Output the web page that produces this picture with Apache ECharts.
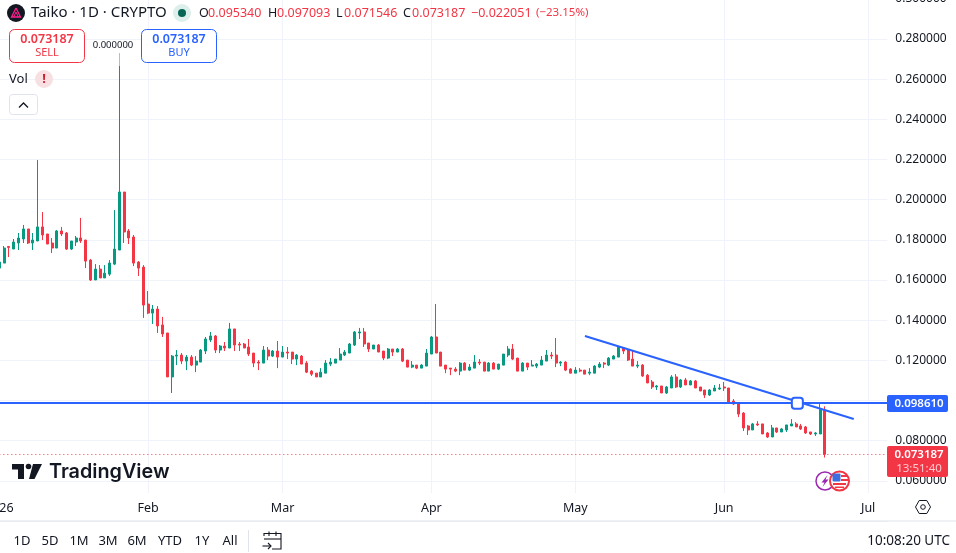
<!DOCTYPE html>
<html>
<head>
<meta charset="utf-8">
<title>Taiko 1D</title>
<script src="https://cdn.jsdelivr.net/npm/echarts@6/dist/echarts.min.js"></script>
<style>
html,body{margin:0;padding:0;background:#fff;}
#chart{width:956px;height:553px;}
</style>
</head>
<body>
<div id="chart"></div>
<script>
// Daily candles from 1 Jan 2026, one column per session.
const opens = [
  .1659,.1684,.1767,.1754,.1784,.1804,.1854,.1784,.1794,.1864,
  .1829,.1784,.1759,.1844,.1834,.1754,.1789,.1809,.1799,.1699,
  .1600,.1654,.1610,.1629,.1679,.1749,.2038,.1844,.1814,.1689,
  .1664,.1480,.1435,.1455,.1376,.1336,.1117,.1221,.1226,.1196,
  .1216,.1176,.1191,.1246,.1301,.1321,.1251,.1271,.1261,.1356,
  .1281,.1281,.1266,.1236,.1191,.1186,.1251,.1221,.1246,.1216,
  .1241,.1241,.1206,.1221,.1186,.1146,.1136,.1117,.1136,.1181,
  .1186,.1201,.1226,.1236,.1276,.1336,.1341,.1286,.1256,.1276,
  .1246,.1211,.1256,.1241,.1256,.1201,.1166,.1176,.1161,.1171,
  .1231,.1316,.1241,.1176,.1161,.1156,.1146,.1186,.1151,.1161,
  .1191,.1191,.1146,.1186,.1156,.1176,.1226,.1256,.1211,.1146,
  .1186,.1171,.1171,.1176,.1196,.1226,.1226,.1186,.1191,.1156,
  .1136,.1151,.1151,.1136,.1136,.1166,.1186,.1176,.1206,.1216,
  .1261,.1251,.1206,.1171,.1176,.1126,.1092,.1067,.1072,.1037,
  .1062,.1117,.1067,.1102,.1077,.1097,.1067,.1052,.1027,.1047,
  .1057,.1067,.1062,.0997,.0987,.0937,.0873,.0853,.0883,.0883,
  .0838,.0818,.0863,.0843,.0853,.0873,.0883,.0873,.0868,.0843,
  .0833,.0833,.09534
];
const highs = [
  .1689,.1769,.1769,.1804,.1834,.1874,.1854,.1834,.2197,.1938,
  .1829,.1809,.1849,.1864,.1839,.1794,.1819,.1909,.1799,.1704,
  .1679,.1674,.1674,.1699,.1948,.2730,.2038,.1854,.1824,.1694,
  .1674,.1545,.1475,.1470,.1416,.1336,.1226,.1251,.1236,.1226,
  .1226,.1221,.1256,.1316,.1341,.1326,.1276,.1291,.1386,.1356,
  .1291,.1286,.1306,.1236,.1201,.1271,.1266,.1251,.1296,.1271,
  .1266,.1241,.1231,.1226,.1196,.1151,.1136,.1161,.1201,.1211,
  .1206,.1261,.1251,.1286,.1346,.1361,.1361,.1286,.1276,.1281,
  .1246,.1261,.1256,.1261,.1261,.1201,.1196,.1176,.1181,.1256,
  .1321,.1480,.1241,.1176,.1161,.1166,.1191,.1191,.1181,.1226,
  .1206,.1191,.1191,.1191,.1181,.1231,.1271,.1281,.1211,.1191,
  .1186,.1201,.1186,.1221,.1251,.1241,.1311,.1196,.1196,.1161,
  .1166,.1161,.1151,.1161,.1176,.1191,.1191,.1216,.1226,.1271,
  .1266,.1256,.1246,.1196,.1181,.1131,.1102,.1077,.1072,.1072,
  .1126,.1131,.1107,.1112,.1102,.1102,.1067,.1052,.1057,.1077,
  .1082,.1092,.1062,.1007,.0987,.0942,.0878,.0888,.0897,.0883,
  .0843,.0878,.0863,.0863,.0878,.0907,.0892,.0883,.0873,.0843,
  .0843,.0982,.097093
];
const lows = [
  .1659,.1684,.1714,.1754,.1749,.1784,.1779,.1749,.1794,.1799,
  .1779,.1734,.1759,.1819,.1749,.1749,.1769,.1784,.1659,.1595,
  .1600,.1610,.1610,.1620,.1674,.1749,.1784,.1779,.1669,.1620,
  .1411,.1430,.1381,.1336,.1316,.1117,.1037,.1176,.1181,.1151,
  .1171,.1141,.1191,.1231,.1291,.1236,.1236,.1246,.1261,.1246,
  .1246,.1261,.1221,.1166,.1151,.1186,.1201,.1216,.1161,.1216,
  .1206,.1181,.1176,.1181,.1136,.1122,.1117,.1117,.1136,.1171,
  .1186,.1201,.1221,.1236,.1271,.1306,.1266,.1241,.1256,.1241,
  .1201,.1206,.1221,.1241,.1191,.1166,.1161,.1156,.1161,.1171,
  .1231,.1236,.1171,.1136,.1126,.1141,.1126,.1151,.1146,.1161,
  .1176,.1146,.1146,.1156,.1151,.1176,.1216,.1201,.1146,.1146,
  .1151,.1171,.1161,.1176,.1196,.1206,.1166,.1171,.1146,.1136,
  .1136,.1141,.1131,.1126,.1136,.1161,.1161,.1171,.1206,.1216,
  .1231,.1196,.1171,.1161,.1117,.1087,.1057,.1052,.1037,.1032,
  .1062,.1062,.1062,.1077,.1077,.1062,.1047,.1012,.1022,.1047,
  .1052,.1047,.0992,.0977,.0917,.0848,.0828,.0853,.0873,.0833,
  .0813,.0818,.0838,.0843,.0843,.0873,.0868,.0853,.0833,.0828,
  .0823,.0833,.071546
];
const closes = [
  .1689,.1759,.1762,.1789,.1809,.1854,.1784,.1799,.1864,.1824,
  .1779,.1759,.1844,.1829,.1754,.1794,.1809,.1794,.1694,.1600,
  .1654,.1610,.1634,.1684,.1754,.2038,.1839,.1809,.1684,.1659,
  .1475,.1435,.1455,.1371,.1331,.1117,.1221,.1226,.1196,.1216,
  .1176,.1196,.1251,.1306,.1321,.1251,.1271,.1261,.1356,.1276,
  .1276,.1261,.1231,.1186,.1186,.1251,.1221,.1246,.1216,.1241,
  .1236,.1206,.1226,.1181,.1141,.1131,.1117,.1141,.1186,.1191,
  .1206,.1231,.1241,.1281,.1341,.1341,.1281,.1256,.1276,.1241,
  .1211,.1256,.1241,.1256,.1196,.1166,.1176,.1161,.1176,.1236,
  .1316,.1236,.1171,.1156,.1156,.1146,.1186,.1151,.1166,.1191,
  .1186,.1146,.1186,.1156,.1181,.1231,.1256,.1206,.1146,.1186,
  .1166,.1176,.1181,.1201,.1226,.1221,.1186,.1191,.1151,.1136,
  .1151,.1146,.1131,.1141,.1171,.1181,.1181,.1211,.1221,.1266,
  .1246,.1201,.1171,.1176,.1122,.1087,.1067,.1072,.1037,.1067,
  .1117,.1067,.1102,.1077,.1097,.1062,.1047,.1027,.1052,.1062,
  .1062,.1062,.0992,.0982,.0932,.0863,.0853,.0883,.0878,.0833,
  .0818,.0863,.0843,.0858,.0878,.0883,.0868,.0858,.0838,.0833,
  .0838,.09534,.073187
];

// Time scale: every day shown, including the empty run-out after the last candle.
const daysShown = 186;
const monthStarts = ['2026-01-01','2026-02-01','2026-03-01','2026-04-01','2026-05-01','2026-06-01','2026-07-01'];
const monthLabels = ['2026','Feb','Mar','Apr','May','Jun','Jul'];

// Price scale bounds and the drawn levels.
const priceMin = 0.04, priceMax = 0.30, priceStep = 0.02;
const gridFloor = 0.0539;
const levelPrice = 0.09861;
const lastPrice = 0.073187;
const trendStart = ['2026-05-03', 0.13209];
const trendEnd = ['2026-06-28', 0.09076];
const trendHandleDate = '2026-06-16';

const UP = '#089981', DOWN = '#f23645', BLUE = '#2962ff', INK = '#131722', GRID = '#f0f3fa';
const FONT = '"Noto Sans", sans-serif';

const dates = [];
for (let i = 0; i < daysShown; i++) {
  dates.push(new Date(Date.UTC(2026, 0, 1 + i)).toISOString().slice(0, 10));
}
const candles = opens.map((o, i) => [o, closes[i], lows[i], highs[i]]);
const firstDate = dates[0], lastDate = dates[daysShown - 1];

function txt(x, y, text, size, fill, extra) {
  return {type: 'text', x, y, z: 20, silent: true,
    style: Object.assign({text, fill, font: size + 'px ' + FONT, textVerticalAlign: 'middle'}, extra || {})};
}
function line(points, stroke, width, extra) {
  return {type: 'polyline', z: 20, silent: true,
    shape: {points}, style: Object.assign({stroke, fill: null, lineWidth: width || 1}, extra || {})};
}
function poly(points, fill) {
  return {type: 'polygon', z: 20, silent: true, shape: {points}, style: {fill}};
}
function box(x, y, w, h, r, fill, stroke, width) {
  return {type: 'rect', z: 19, silent: true, shape: {x, y, width: w, height: h, r},
    style: {fill, stroke: stroke || null, lineWidth: width || 0}};
}
function disc(cx, cy, r, fill, stroke, width) {
  return {type: 'circle', z: 19, silent: true, shape: {cx, cy, r},
    style: {fill, stroke: stroke || null, lineWidth: width || 0}};
}

// Title strip and OHLC readout
const header = [
  disc(16, 13, 9, '#131722'),
  line([[16,8],[11.5,17],[20.5,17],[16,8]], '#ff1f8f', 1.3),
  line([[16,12],[13.7,17]], '#ff1f8f', 1), line([[16,12],[18.3,17]], '#ff1f8f', 1),
  txt(31, 13, 'Taiko · 1D · CRYPTO', 15, INK),
  disc(182, 13, 9, '#dcefeb'), disc(182, 13, 4, '#056656'),
  txt(199, 13, 'O', 12.5, INK), txt(208, 13, '0.095340', 12.5, DOWN),
  txt(268, 13, 'H', 12.5, INK), txt(277, 13, '0.097093', 12.5, DOWN),
  txt(336, 13, 'L', 12.5, INK), txt(344, 13, '0.071546', 12.5, DOWN),
  txt(403, 13, 'C', 12.5, INK), txt(412, 13, '0.073187', 12.5, DOWN),
  txt(471, 13, '−0.022051', 12.5, DOWN), txt(536, 13, '(−23.15%)', 11.5, DOWN)
];

// Trade buttons, volume flag and collapse toggle
const buttons = [
  box(9.5, 29.5, 75, 33, 5, '#fff', DOWN, 1),
  txt(47, 39, '0.073187', 13, DOWN, {textAlign: 'center', font: '600 12.5px ' + FONT}),
  txt(47, 53, 'SELL', 11, DOWN, {textAlign: 'center'}),
  box(141.5, 29.5, 75, 33, 5, '#fff', BLUE, 1),
  txt(179, 39, '0.073187', 13, BLUE, {textAlign: 'center', font: '600 12.5px ' + FONT}),
  txt(179, 53, 'BUY', 11, BLUE, {textAlign: 'center'}),
  box(117, 52, 5, 14, 0, 'rgba(255,255,255,0.55)'),
  txt(113, 45.5, '0.000000', 9.5, INK, {textAlign: 'center'}),
  txt(9, 79.5, 'Vol', 13, INK),
  disc(44, 79, 9, '#f7dfe2'),
  txt(44, 79, '!', 13, '#c9202f', {textAlign: 'center', font: 'bold 13px ' + FONT}),
  box(9.5, 94.5, 28, 20, 3, '#fff', '#e0e3eb', 1),
  line([[19,107.5],[23.5,103],[28,107.5]], INK, 1.3)
];

// Price tags on the scale
const tags = [
  box(887, 395, 61, 17, 2, BLUE),
  txt(919, 403.5, '0.098610', 11.5, '#fff', {textAlign: 'center', font: '600 11.5px ' + FONT}),
  box(887, 446, 61, 31, 2, DOWN),
  txt(919, 454.5, '0.073187', 11.5, '#fff', {textAlign: 'center', font: '600 11.5px ' + FONT}),
  txt(919, 468.5, '13:51:40', 11.5, '#ffc9cf', {textAlign: 'center'})
];

// Wordmark
const brand = [
  poly([[12,464],[24,464],[24,479],[18,479],[18,469.5],[12,469.5]], INK),
  disc(28.5, 466.5, 2.8, INK),
  poly([[33,464],[42,464],[34.5,479],[29,479]], INK),
  txt(49, 472, 'TradingView', 20, INK, {font: '600 19.8px Inter, ' + FONT})
];

// Event badges under the last candle
const badges = [
  disc(825, 481, 9, '#fff', '#9c27b0', 1.5),
  poly([[827.5,475],[821.5,482.5],[824.5,482.5],[822.5,487],[828.5,479.5],[825.5,479.5]], '#9c27b0'),
  disc(839.5, 481, 9.5, '#fff', DOWN, 2),
  box(832.5, 473.5, 8, 8, 1, '#3d6fe0'),
  box(841, 475, 6, 2, 0, DOWN), box(841, 479, 7, 2, 0, DOWN),
  box(833, 483, 13, 2, 0, DOWN), box(835, 486.5, 9, 1.5, 0, DOWN)
];

// Bottom toolbar
const rangeX = [22, 50, 79, 108, 137, 170, 202, 230];
const rangeText = ['1D', '5D', '1M', '3M', '6M', 'YTD', '1Y', 'All'];
const toolbar = [
  box(0, 520.5, 956, 1, 0, '#e0e3eb'),
  box(248, 530, 1, 22, 0, '#e0e3eb'),
  line([[264,536],[264,533.5],[281,533.5],[281,549],[272,549]], INK, 1.1),
  line([[264,539],[281,539]], INK, 1.1),
  line([[269,531.5],[269,536]], INK, 1.1), line([[276,531.5],[276,536]], INK, 1.1),
  line([[262.5,546],[271,546]], INK, 1.1), line([[268,543],[271,546],[268,549]], INK, 1.1),
  line([[915.5,507],[919.2,500.5],[926.8,500.5],[930.5,507],[926.8,513.5],[919.2,513.5],[915.5,507]], INK, 1),
  {type: 'circle', z: 20, silent: true, shape: {cx: 923, cy: 507, r: 2.3}, style: {fill: null, stroke: INK, lineWidth: 1}},
  txt(950, 541, '10:08:20 UTC', 13.5, INK, {textAlign: 'right'})
].concat(rangeText.map((t, i) => txt(rangeX[i], 541, t, 13, INK, {textAlign: 'center'})));

const chart = echarts.init(document.getElementById('chart'), null, {renderer: 'canvas'});
chart.setOption({
  animation: false,
  backgroundColor: '#fff',
  grid: {left: -0.65, width: 888, top: -1.16, height: 522.08, containLabel: false, outerBoundsMode: 'none'},
  xAxis: {
    type: 'category',
    data: dates,
    boundaryGap: false,
    axisLine: {show: false},
    axisTick: {show: false},
    splitLine: {show: false},
    axisLabel: {
      inside: true,
      margin: 6,
      color: INK,
      fontFamily: FONT,
      fontSize: 12.5,
      hideOverlap: false,
      interval: (i, v) => monthStarts.includes(v),
      formatter: v => monthLabels[monthStarts.indexOf(v)]
    }
  },
  yAxis: {
    type: 'value',
    position: 'right',
    min: priceMin,
    max: priceMax,
    interval: priceStep,
    axisLine: {show: false},
    axisTick: {show: false},
    splitLine: {show: true, lineStyle: {color: GRID, width: 1}},
    axisLabel: {
      margin: 8,
      padding: [2, 0, 0, 0],
      color: INK,
      fontFamily: FONT,
      fontSize: 12,
      showMinLabel: false,
      showMaxLabel: true,
      formatter: v => v.toFixed(6)
    }
  },
  series: [
    {
      // Month dividers stop short of the date labels.
      type: 'line',
      data: [],
      silent: true,
      z: 1,
      markLine: {
        silent: true,
        symbol: 'none',
        z: 1,
        label: {show: false},
        lineStyle: {color: GRID, width: 1, type: 'solid'},
        data: monthStarts.slice(1).map(d => [{coord: [d, priceMax]}, {coord: [d, gridFloor]}])
      }
    },
    {
      type: 'candlestick',
      data: candles,
      barWidth: 2.5,
      z: 3,
      itemStyle: {
        color: UP, color0: DOWN,
        borderColor: UP, borderColor0: DOWN,
        borderWidth: 1
      },
      markLine: {
        silent: true,
        symbol: 'none',
        z: 5,
        label: {show: false},
        data: [
          [{coord: [firstDate, levelPrice], lineStyle: {color: BLUE, width: 2, type: 'solid'}}, {coord: [lastDate, levelPrice]}],
          [{coord: [firstDate, lastPrice], lineStyle: {color: DOWN, width: 1.2, type: [1, 3]}}, {coord: [lastDate, lastPrice]}],
          [{coord: trendStart, lineStyle: {color: BLUE, width: 2, type: 'solid'}}, {coord: trendEnd}]
        ]
      },
      markPoint: {
        silent: true,
        z: 6,
        symbol: 'roundRect',
        symbolSize: 11,
        symbolOffset: [1.2, 0],
        label: {show: false},
        itemStyle: {color: '#fff', borderColor: BLUE, borderWidth: 2},
        data: [{coord: [trendHandleDate, levelPrice]}]
      }
    }
  ],
  graphic: {elements: [].concat(header, buttons, tags, brand, badges, toolbar)}
});
</script>
</body>
</html>
